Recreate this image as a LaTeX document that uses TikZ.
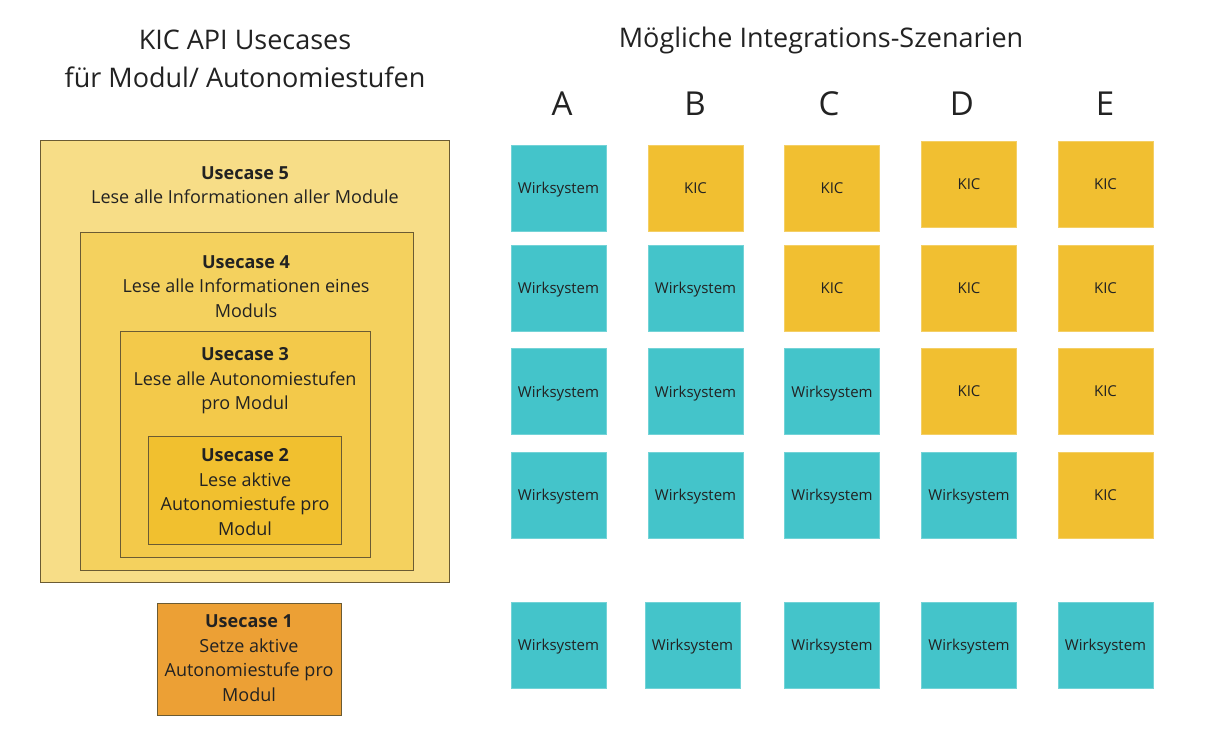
\documentclass[tikz,border=0pt]{standalone}
\usepackage{fontspec}
\setmainfont{Open Sans}
\usetikzlibrary{positioning}
\definecolor{wirk}{HTML}{44C4CA}
\definecolor{kicgelb}{HTML}{F1BF31}
\definecolor{ucA}{HTML}{ECA035}
\definecolor{ucB}{HTML}{F1C02F}
\definecolor{ucC}{HTML}{F3C94A}
\definecolor{ucD}{HTML}{F4D15E}
\definecolor{ucE}{HTML}{F7DD87}
\definecolor{rand}{HTML}{6B5B33}
\definecolor{schrift}{HTML}{222222}

\begin{document}
\begin{tikzpicture}[x=0.5pt,y=-0.5pt,text=schrift]
  \tikzstyle{kachel}=[minimum width=47.5pt,minimum height=43pt,inner sep=0pt,text depth=0pt,line width=0.4pt,font=\fontsize{7.5}{9}\selectfont]
  \tikzstyle{ws}=[kachel,fill=wirk,draw=wirk!75!white]
  \tikzstyle{kic}=[kachel,fill=kicgelb,draw=kicgelb!75!white]
  \tikzstyle{ucbox}=[draw=rand,line width=0.5pt,inner sep=0pt]
  \tikzstyle{uctext}=[align=center,font=\fontsize{9}{12.25}\selectfont]
  \tikzstyle{titel}=[font=\fontsize{13.5}{16}\selectfont]
  \tikzstyle{spalte}=[font=\fontsize{16.5}{18}\selectfont]
  \useasboundingbox (0,0) rectangle (1208,749);

  \node[titel] (titel1) at (245,40) {KIC API Usecases};
  \node[titel] (titel2) at (245,77) {für Modul/ Autonomiestufen};
  \node[titel] (titel3) at (821,40) {Mögliche Integrations-Szenarien};

  % verschachtelte Usecases
  \node[ucbox,fill=ucE,minimum width=204.5pt,minimum height=221pt] (uc5) at (244.5,361) {};
  \node[ucbox,fill=ucD,minimum width=166.5pt,minimum height=169pt] (uc4) at (246.5,401) {};
  \node[ucbox,fill=ucC,minimum width=125pt,minimum height=113pt] (uc3) at (245,444) {};
  \node[ucbox,fill=ucB,minimum width=96.5pt,minimum height=54pt] (uc2) at (244.5,490) {};
  \node[ucbox,fill=ucA,minimum width=92pt,minimum height=56pt] (uc1) at (249,659) {};
  \node[uctext] (t5) at (245,185) {\textbf{Usecase 5}\\Lese alle Informationen aller Module};
  \node[uctext] (t4) at (246,286.5) {\textbf{Usecase 4}\\Lese alle Informationen eines\\Moduls};
  \node[uctext] (t3) at (245,381) {\textbf{Usecase 3}\\Lese alle Autonomiestufen\\pro Modul};
  \node[uctext] (t2) at (245,492) {\textbf{Usecase 2}\\Lese aktive\\Autonomiestufe pro\\Modul};
  \node[uctext] (t1) at (249,658) {\textbf{Usecase 1}\\Setze aktive\\Autonomiestufe pro\\Modul};

  % Szenarien A bis E
  \node[spalte] (ka) at (562,104) {A};
  \node[spalte] (kb) at (695,104) {B};
  \node[spalte] (kc) at (829,104) {C};
  \node[spalte] (kd) at (962,104) {D};
  \node[spalte] (ke) at (1105,104) {E};

  \node[ws] (a1) at (558.5,188) {Wirksystem};
  \node[kic] (b1) at (695.5,188) {KIC};
  \node[kic] (c1) at (832,188) {KIC};
  \node[kic] (d1) at (969,184) {KIC};
  \node[kic] (e1) at (1105.5,184) {KIC};

  \node[ws] (a2) at (558.5,288) {Wirksystem};
  \node[ws] (b2) at (695.5,288) {Wirksystem};
  \node[kic] (c2) at (832,288) {KIC};
  \node[kic] (d2) at (969,288) {KIC};
  \node[kic] (e2) at (1105.5,288) {KIC};

  \node[ws] (a3) at (558.5,391.5) {Wirksystem};
  \node[ws] (b3) at (695.5,391.5) {Wirksystem};
  \node[ws] (c3) at (832,391.5) {Wirksystem};
  \node[kic] (d3) at (969,391.5) {KIC};
  \node[kic] (e3) at (1105.5,391.5) {KIC};

  \node[ws] (a4) at (558.5,495) {Wirksystem};
  \node[ws] (b4) at (695.5,495) {Wirksystem};
  \node[ws] (c4) at (832,495) {Wirksystem};
  \node[ws] (d4) at (969,495) {Wirksystem};
  \node[kic] (e4) at (1105.5,495) {KIC};

  \node[ws] (a5) at (558.5,645) {Wirksystem};
  \node[ws] (b5) at (692.5,645) {Wirksystem};
  \node[ws] (c5) at (832,645) {Wirksystem};
  \node[ws] (d5) at (969,645) {Wirksystem};
  \node[ws] (e5) at (1105.5,645) {Wirksystem};
\end{tikzpicture}
\end{document}
